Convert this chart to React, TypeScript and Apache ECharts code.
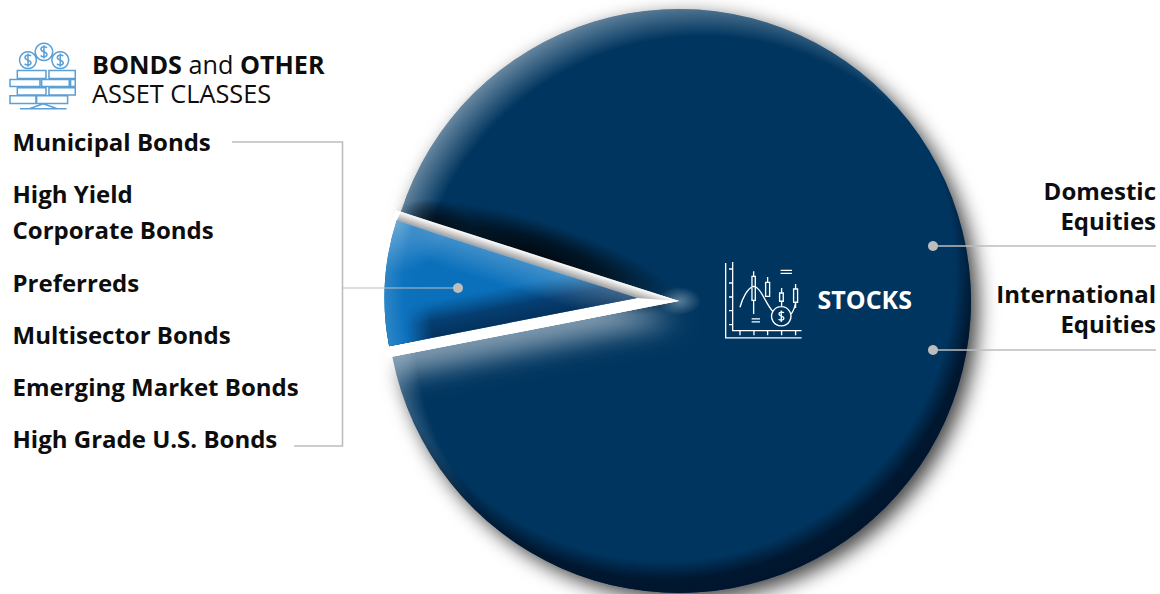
import React, { useEffect, useRef } from "react";
import * as echarts from "echarts";

// Allocation split, in percent of the portfolio
const sliceNames = ["Bonds and Other", "Stocks"];
const sliceValues = [8, 92];

const bondLabels = [
  "Municipal Bonds",
  "High Yield",
  "Corporate Bonds",
  "Preferreds",
  "Multisector Bonds",
  "Emerging Market Bonds",
  "High Grade U.S. Bonds",
];
const bondLabelY = [141, 193, 229, 282, 334, 386, 438];
const equityLabels = ["Domestic", "Equities", "International", "Equities"];
const equityLabelY = [190.5, 220, 293.5, 323];

const FONT = '"Open Sans", "Noto Sans", sans-serif';
const NAVY = "#00355f";
const BLUE = "#0a70bb";
const RULE = "#bdbdbd";
const INK = "#0d0d0d";

// Pie geometry
const MAIN = { x: 679, y: 301, r: 292 };
const WEDGE = { x: 637, y: 298, r: 252.5 };
const START_ANGLE = 191;
const SWEEP = (sliceValues[0] / (sliceValues[0] + sliceValues[1])) * 360;
const LOWER = START_ANGLE;
const UPPER = START_ANGLE - SWEEP;

const rad = (d: number) => (d * Math.PI) / 180;
const polar = (c: { x: number; y: number }, a: number, r: number, off = 0) => {
  const nx = Math.cos(rad(a + 90));
  const ny = -Math.sin(rad(a + 90));
  return [c.x + r * Math.cos(rad(a)) + off * nx, c.y - r * Math.sin(rad(a)) + off * ny];
};

// Linear shade that starts on a wedge edge and runs across it
const edgeShade = (a: number, side: number, width: number, stops: [number, string][]) => {
  const [x, y] = polar(WEDGE, a, 100);
  const [x2, y2] = polar(WEDGE, a, 100, side * width);
  return {
    type: "linear",
    x,
    y,
    x2,
    y2,
    global: true,
    colorStops: stops.map(([offset, color]) => ({ offset, color })),
  };
};

const radial = (x: number, y: number, r: number, stops: [number, string][]) => ({
  type: "radial",
  x,
  y,
  r,
  global: true,
  colorStops: stops.map(([offset, color]) => ({ offset, color })),
});

const softBlob = (stops: [number, string][]) => ({
  type: "radial",
  x: 0.5,
  y: 0.5,
  r: 0.5,
  colorStops: stops.map(([offset, color]) => ({ offset, color })),
});

const sectorOver = (c: { x: number; y: number; r: number }, from: number, to: number) => ({
  cx: c.x,
  cy: c.y,
  r: c.r,
  r0: 0,
  startAngle: -rad(to),
  endAngle: -rad(from),
  clockwise: true,
});

const blob = (a: number, r: number, off: number, rx: number, ry: number, stops: [number, string][], rot: number) => {
  const [x, y] = polar(MAIN, a, r, off);
  return {
    type: "ellipse",
    x,
    y,
    rotation: rad(rot),
    silent: true,
    z: 3,
    shape: { cx: 0, cy: 0, rx, ry },
    style: { fill: softBlob(stops) },
  };
};

// Icon outlines, drawn at 3x and scaled down when placed
const COIN_PATH =
  "M132 26a26 26 0 1 0 0.01 0z M84 52a25 25 0 1 0 0.01 0z M181 52a25 25 0 1 0 0.01 0z" +
  " M52 108h86v24h-86z M147 108h79v24h-79z M30 135h90v21h-90z M125 135h83v21h-83z M212 135h14v21h-14z" +
  " M52 160h86v22h-86z M147 160h79v22h-79z M30 184h78v23h-78z M110 184h93v23h-93z" +
  " M60 223h140 M90 222l40 -14l40 14" +
  " M141 40c-4 -5 -18 -4 -18 4c0 9 18 7 18 16c0 8 -14 9 -19 3 M132 32v40" +
  " M93 65c-4 -5 -18 -4 -18 4c0 9 18 7 18 16c0 8 -14 9 -19 3 M84 57v40" +
  " M190 65c-4 -5 -18 -4 -18 4c0 9 18 7 18 16c0 8 -14 9 -19 3 M181 57v40";

const CHART_ICON =
  "M17 15V240H245 M38 12V218H245" +
  " M27 33H38 M27 75H38 M27 117H38 M27 158H38 M27 200H38" +
  " M60 218V232 M102 218V232 M143 218V232 M185 218V232 M227 218V232" +
  " M96 55h10v72h-10z M101 40V55 M101 127V168" +
  " M137 73h12v42h-12z M143 57V73" +
  " M179 105h11v25h-11z M185 90V105 M185 130V146" +
  " M221 93h12v40h-12z M227 78V93 M227 133V150" +
  " M60 148C68 118 84 90 100 85C122 85 136 136 158 160 M212 170C220 162 224 150 227 135" +
  " M184 146a29 29 0 1 0 0.01 0z" +
  " M192 165c-3 -4 -15 -3 -15 3c0 7 15 6 15 13c0 7 -12 7 -16 3 M184 158v34" +
  " M182 37H216 M182 46H216 M95 183H120 M95 192H120";

echarts.graphic.registerShape("coinIcon", echarts.graphic.extendPath(COIN_PATH, {}) as any);
echarts.graphic.registerShape("chartIcon", echarts.graphic.extendPath(CHART_ICON, {}) as any);

const textEl = (
  text: string,
  x: number,
  y: number,
  fill: string,
  size: number,
  weight: number,
  align: string,
) => ({
  type: "text",
  x,
  y,
  silent: true,
  z: 10,
  style: { text, fill, font: `${weight} ${size}px ${FONT}`, align, verticalAlign: "middle" },
});

export default function App() {
  const ref = useRef<HTMLDivElement>(null);

  useEffect(() => {
    const chart = echarts.init(ref.current!, undefined, { renderer: "svg" });

    const upperCornerMain = polar(MAIN, UPPER, MAIN.r);
    const upperCornerWedge = polar(WEDGE, UPPER, WEDGE.r);

    const pieBase = {
      type: "pie",
      silent: true,
      startAngle: START_ANGLE,
      clockwise: true,
      avoidLabelOverlap: false,
      label: { show: false },
      labelLine: { show: false },
    };

    const option = {
      animation: false,
      backgroundColor: "#ffffff",
      series: [
        {
          ...pieBase,
          z: 2,
          center: [MAIN.x, MAIN.y],
          radius: [0, MAIN.r],
          data: [
            { name: sliceNames[0], value: sliceValues[0], itemStyle: { color: "rgba(0,0,0,0)" } },
            {
              name: sliceNames[1],
              value: sliceValues[1],
              itemStyle: {
                color: NAVY,
                shadowBlur: 20,
                shadowOffsetX: 7,
                shadowOffsetY: 7,
                shadowColor: "rgba(0,0,0,0.75)",
              },
            },
          ],
        },
        {
          ...pieBase,
          z: 4,
          center: [WEDGE.x, WEDGE.y],
          radius: [0, WEDGE.r],
          data: [
            { name: sliceNames[0], value: sliceValues[0], itemStyle: { color: BLUE } },
            { name: sliceNames[1], value: sliceValues[1], itemStyle: { color: "rgba(0,0,0,0)" } },
          ],
        },
      ],
      graphic: {
        elements: [
          // Pale rim on the upper left of the stocks slice
          {
            type: "sector",
            silent: true,
            z: 3,
            shape: sectorOver(MAIN, LOWER - 360, UPPER),
            style: {
              fill: radial(MAIN.x + 24, MAIN.y + 24, 330, [
                [0, "rgba(255,255,255,0)"],
                [0.875, "rgba(255,255,255,0)"],
                [0.99, "rgba(255,255,255,0.42)"],
                [1, "rgba(255,255,255,0.42)"],
              ]),
            },
          },
          // Dark rim on the lower right
          {
            type: "sector",
            silent: true,
            z: 3,
            shape: sectorOver(MAIN, LOWER - 360, UPPER),
            style: {
              fill: radial(MAIN.x - 14, MAIN.y - 30, 330, [
                [0, "rgba(0,15,35,0)"],
                [0.879, "rgba(0,15,35,0)"],
                [0.935, "rgba(0,15,35,0.78)"],
                [1, "rgba(0,15,35,0.85)"],
              ]),
            },
          },
          // Glow cast by the gap onto the slice below it
          {
            type: "sector",
            silent: true,
            z: 3,
            shape: sectorOver({ ...MAIN, r: MAIN.r + 6 }, UPPER, LOWER),
            style: {
              fill: "#ffffff",
              shadowBlur: 26,
              shadowOffsetX: 0,
              shadowOffsetY: 20,
              shadowColor: "rgba(255,255,255,0.5)",
            },
          },
          blob(LOWER, 0, 0, 22, 14, [
            [0, "rgba(255,255,255,0.35)"],
            [1, "rgba(255,255,255,0)"],
          ], 0),
          // Shadow above the wedge
          blob(UPPER, 150, 2, 150, 36, [
            [0, "rgba(0,0,0,0.85)"],
            [0.5, "rgba(0,0,0,0.6)"],
            [1, "rgba(0,0,0,0)"],
          ], -(180 - UPPER)),
          blob(UPPER, 255, 1, 37, 24, [
            [0, "rgba(0,0,0,0.6)"],
            [1, "rgba(0,0,0,0)"],
          ], -(180 - UPPER)),
          // The gap around the wedge
          {
            type: "sector",
            silent: true,
            z: 3,
            shape: sectorOver({ ...MAIN, r: MAIN.r + 6 }, UPPER, LOWER),
            style: { fill: "#ffffff" },
          },
          {
            type: "polygon",
            silent: true,
            z: 3,
            shape: { points: [upperCornerMain, [MAIN.x, MAIN.y], [WEDGE.x, WEDGE.y], upperCornerWedge] },
            style: {
              fill: edgeShade(UPPER, 1, -10, [
                [0, "rgba(0,0,0,0.38)"],
                [1, "rgba(0,0,0,0)"],
              ]),
            },
          },
          // Shading inside the wedge
          {
            type: "sector",
            silent: true,
            z: 5,
            shape: sectorOver(WEDGE, UPPER, LOWER),
            style: {
              fill: edgeShade(LOWER, -1, 36, [
                [0, "rgba(4,44,84,0.92)"],
                [0.45, "rgba(4,50,96,0.8)"],
                [1, "rgba(4,60,110,0)"],
              ]),
            },
          },
          {
            type: "sector",
            silent: true,
            z: 5,
            shape: sectorOver(WEDGE, UPPER, LOWER),
            style: {
              fill: edgeShade(UPPER, 1, 30, [
                [0, "rgba(255,255,255,0.22)"],
                [1, "rgba(255,255,255,0)"],
              ]),
            },
          },
          {
            type: "sector",
            silent: true,
            z: 5,
            shape: sectorOver(WEDGE, UPPER, LOWER),
            style: {
              fill: radial(WEDGE.x, WEDGE.y, WEDGE.r, [
                [0, "rgba(10,112,187,0)"],
                [0.82, "rgba(10,112,187,0)"],
                [0.93, "rgba(14,115,190,1)"],
                [1, "rgba(44,134,198,1)"],
              ]),
            },
          },
          {
            type: "sector",
            silent: true,
            z: 5,
            shape: sectorOver(WEDGE, UPPER, LOWER),
            style: {
              fill: radial(upperCornerWedge[0], upperCornerWedge[1], 52, [
                [0, "rgba(255,255,255,0.3)"],
                [1, "rgba(255,255,255,0)"],
              ]),
            },
          },
          // Bracket from the bond labels to the wedge
          {
            type: "polyline",
            silent: true,
            z: 10,
            shape: { points: [[232, 142], [342.5, 142], [342.5, 446], [294, 446]] },
            style: { stroke: RULE, lineWidth: 1.6, fill: "none" },
          },
          {
            type: "line",
            silent: true,
            z: 10,
            shape: { x1: 342.5, y1: 288, x2: 458, y2: 288 },
            style: { stroke: RULE, lineWidth: 1.2 },
          },
          { type: "circle", silent: true, z: 10, shape: { cx: 458, cy: 288, r: 5 }, style: { fill: RULE } },
          // Leaders to the equity labels
          {
            type: "line",
            silent: true,
            z: 10,
            shape: { x1: 933, y1: 246, x2: 1156, y2: 246 },
            style: { stroke: RULE, lineWidth: 1.6 },
          },
          { type: "circle", silent: true, z: 10, shape: { cx: 933, cy: 246, r: 5 }, style: { fill: RULE } },
          {
            type: "line",
            silent: true,
            z: 10,
            shape: { x1: 933, y1: 350, x2: 1156, y2: 350 },
            style: { stroke: RULE, lineWidth: 1.6 },
          },
          { type: "circle", silent: true, z: 10, shape: { cx: 933, cy: 350, r: 5 }, style: { fill: RULE } },
          // Icons
          {
            type: "coinIcon",
            silent: true,
            z: 10,
            x: 0,
            y: 34.5,
            scaleX: 1 / 3,
            scaleY: 1 / 3,
            style: { fill: "none", stroke: "#5a9fd6", lineWidth: 4.5 },
          },
          {
            type: "chartIcon",
            silent: true,
            z: 10,
            x: 720,
            y: 258,
            scaleX: 1 / 3,
            scaleY: 1 / 3,
            style: { fill: "none", stroke: "#ffffff", lineWidth: 4 },
          },
          // Heading
          {
            type: "text",
            x: 92,
            y: 64,
            silent: true,
            z: 10,
            style: {
              text: "{b|BONDS}{r| and }{b|OTHER}",
              verticalAlign: "middle",
              rich: {
                b: { font: `700 25.2px ${FONT}`, fill: INK },
                r: { font: `400 25.2px ${FONT}`, fill: INK },
              },
            },
          },
          textEl("ASSET CLASSES", 92, 93, INK, 25.3, 400, "left"),
          ...bondLabels.map((t, i) => textEl(t, 12.5, bondLabelY[i], INK, 24, 700, "left")),
          ...equityLabels.map((t, i) => textEl(t, 1156, equityLabelY[i], INK, 24, 700, "right")),
          textEl("STOCKS", 817.5, 299, "#ffffff", 25, 700, "left"),
        ],
      },
    };

    chart.setOption(option as any);
    return () => chart.dispose();
  }, []);

  return (
    <div
      ref={ref}
      style={{ position: "absolute", left: 0, top: 0, width: 1160, height: 594, background: "#ffffff" }}
    />
  );
}
